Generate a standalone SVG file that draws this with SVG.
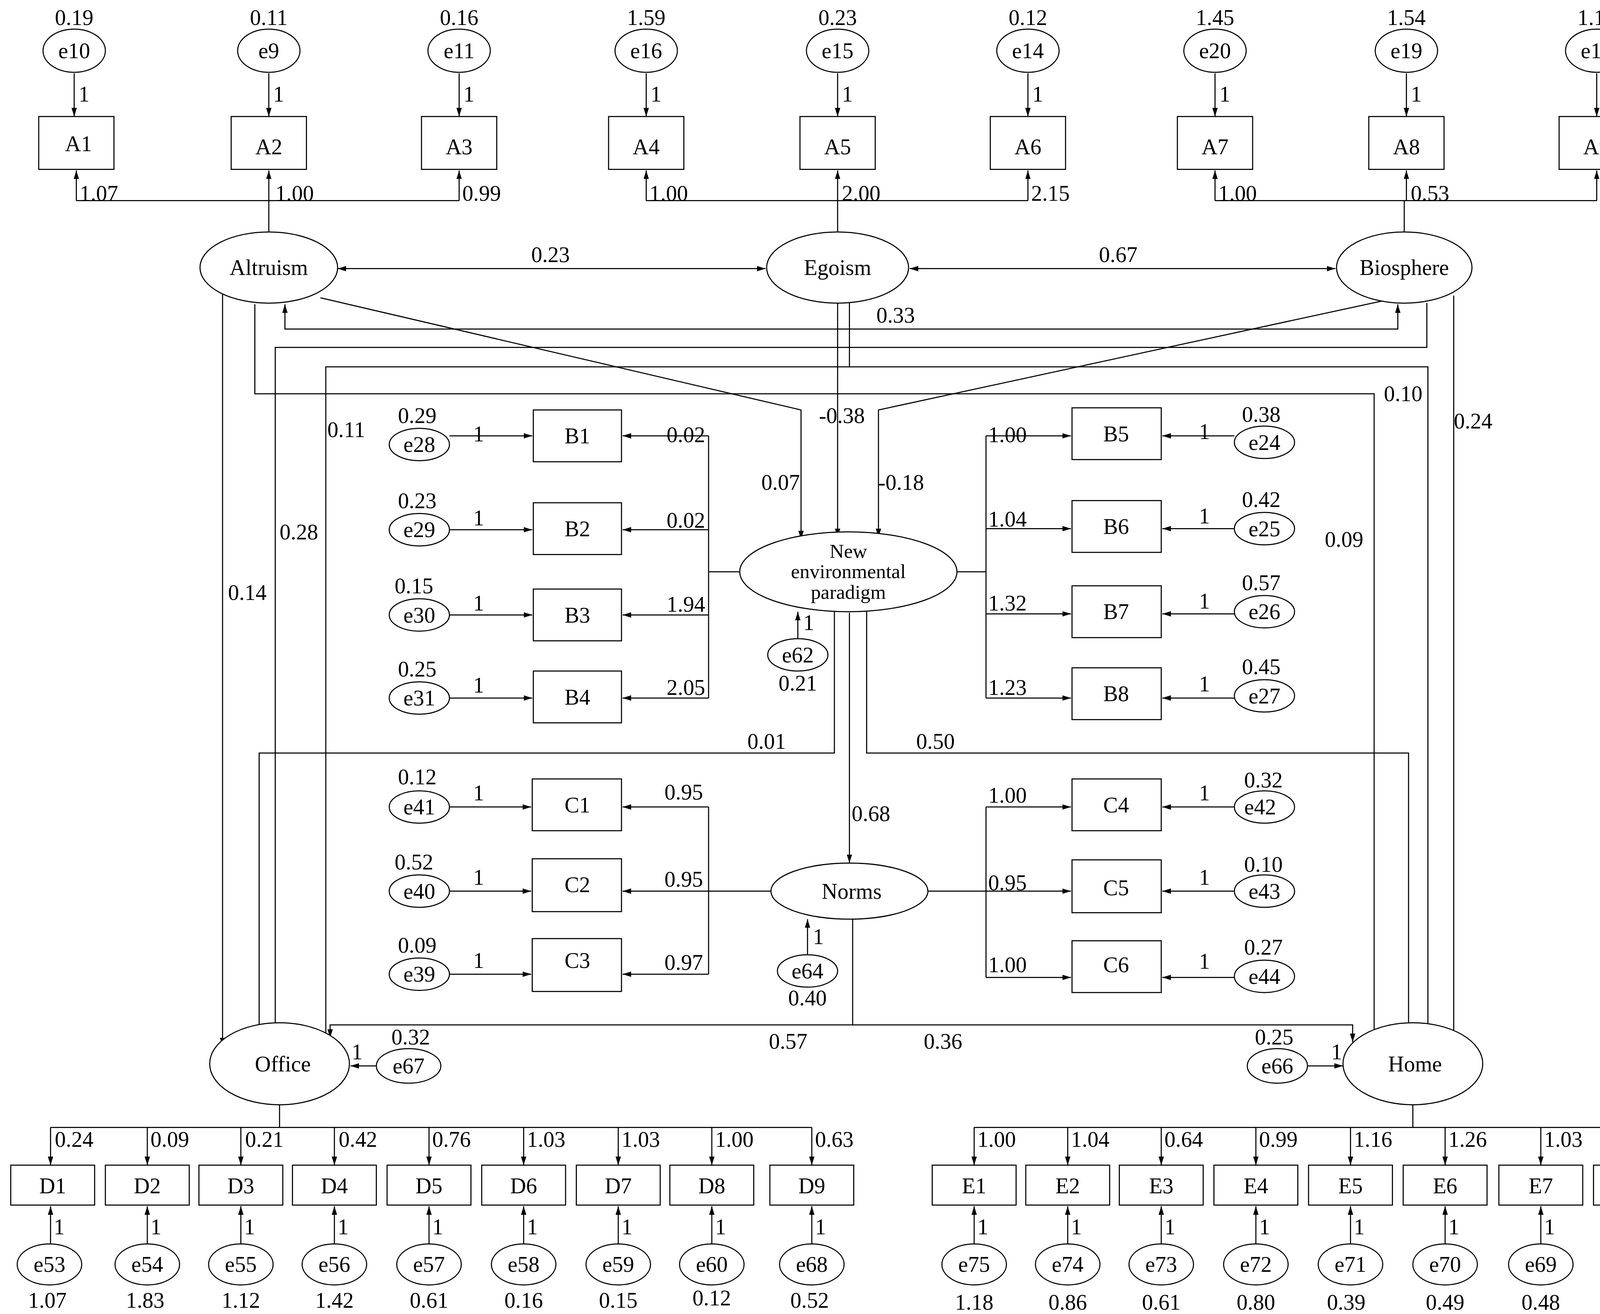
<svg xmlns="http://www.w3.org/2000/svg" width="4316" height="3364" viewBox="0 0 4316 3364">
<defs>
<style>
path{fill:none;stroke:#000;stroke-width:1}
.a{marker-end:url(#ah)}
.d{marker-end:url(#ah);marker-start:url(#ah)}
.n{fill:#fff;stroke:#000;stroke-width:1}
text{font-family:"Liberation Serif","Times New Roman",serif;font-size:20.5px;fill:#000}
.c{text-anchor:middle}
.sm{font-size:18.5px}
</style>
<marker id="ah" markerUnits="userSpaceOnUse" markerWidth="9" markerHeight="6" refX="8" refY="3" orient="auto-start-reverse"><path d="M0,0.5 L8,3 L0,5.5 z" style="fill:#000;stroke:none"/></marker>
</defs>
<rect width="4316" height="3364" fill="#fff"/>
<g transform="scale(2.7526,2.762)">
<g id="connectors">
<path class="a" d="M69,68 V108"/><path class="a" d="M250,68 V108"/><path class="a" d="M427,68 V108"/><path class="a" d="M601,68 V108"/><path class="a" d="M779,68 V108"/><path class="a" d="M956,68 V108"/><path class="a" d="M1130,68 V108"/><path class="a" d="M1308,68 V108"/><path class="a" d="M1485,68 V108"/>
<path d="M250,215 V186 H71 M250,186 H427 M779,215 V186 H601 M779,186 H956 M1306,215 V186 H1130 M1306,186 H1485"/>
<path class="a" d="M71,186 V158"/><path class="a" d="M250,186 V158"/><path class="a" d="M427,186 V158"/><path class="a" d="M601,186 V158"/><path class="a" d="M779,186 V158"/><path class="a" d="M956,186 V158"/><path class="a" d="M1130,186 V158"/><path class="a" d="M1308,186 V158"/><path class="a" d="M1485,186 V158"/>
<path class="d" d="M314,249 H712"/>
<path class="d" d="M846,249 H1242"/>
<path class="d" d="M265,282 V305 H1300 V282"/>
<path class="a" d="M207,273 V970"/>
<path class="a" d="M237,282 V365 H1278 V968"/>
<path class="a" d="M298,276 L745,380 V500"/>
<path class="a" d="M779,281 V498"/>
<path class="a" d="M790,281 V340 H303 V968"/>
<path class="a" d="M790,340 H1328 V967"/>
<path class="a" d="M1327,281 V322 H256 V968"/>
<path class="a" d="M1352,274 V966"/>
<path class="a" d="M1290,278 L817,380 V498"/>
<path d="M688,530 H659 M659,404 V647 M890,530 H917 M917,404 V647"/>
<path class="a" d="M659,404 H579"/><path class="a" d="M659,491 H579"/><path class="a" d="M659,570 H579"/><path class="a" d="M659,647 H579"/>
<path class="a" d="M917,404 H996"/><path class="a" d="M917,490 H996"/><path class="a" d="M917,569 H996"/><path class="a" d="M917,647 H996"/>
<path class="a" d="M418,404 H495"/><path class="a" d="M418,491 H495"/><path class="a" d="M418,570 H495"/><path class="a" d="M418,647 H495"/>
<path class="a" d="M1148,404 H1081"/><path class="a" d="M1148,490 H1081"/><path class="a" d="M1148,569 H1081"/><path class="a" d="M1148,647 H1081"/>
<path class="a" d="M742,592 V567"/>
<path class="a" d="M776,567 V698 H241 V968"/>
<path class="a" d="M806,567 V698 H1310 V968"/>
<path class="a" d="M790,568 V800"/>
<path d="M717,826 H659 M659,748 V903 M863,826 H917 M917,748 V906"/>
<path class="a" d="M659,748 H579"/><path class="a" d="M659,826 H579"/><path class="a" d="M659,903 H579"/>
<path class="a" d="M917,748 H996"/><path class="a" d="M917,826 H996"/><path class="a" d="M917,906 H996"/>
<path class="a" d="M418,748 H494"/><path class="a" d="M418,826 H494"/><path class="a" d="M418,903 H494"/>
<path class="a" d="M1148,748 H1081"/><path class="a" d="M1148,826 H1081"/><path class="a" d="M1148,906 H1081"/>
<path class="a" d="M751,885 V852"/>
<path class="a" d="M793,852 V950 H307 V962"/>
<path class="a" d="M793,950 H1258 V966"/>
<path class="a" d="M350,988 H326"/>
<path class="a" d="M1160,988 H1249"/>
<path d="M260,1024 V1045 M47,1045 H755 M1314,1024 V1045 M906,1045 H1521"/>
<path class="a" d="M47,1045 V1080"/><path class="a" d="M137,1045 V1080"/><path class="a" d="M224,1045 V1080"/><path class="a" d="M311,1045 V1080"/><path class="a" d="M399,1045 V1080"/><path class="a" d="M487,1045 V1080"/><path class="a" d="M575,1045 V1080"/><path class="a" d="M662,1045 V1080"/><path class="a" d="M755,1045 V1080"/>
<path class="a" d="M906,1045 V1080"/><path class="a" d="M993,1045 V1080"/><path class="a" d="M1080,1045 V1080"/><path class="a" d="M1168,1045 V1080"/><path class="a" d="M1256,1045 V1080"/><path class="a" d="M1344,1045 V1080"/><path class="a" d="M1433,1045 V1080"/><path class="a" d="M1521,1045 V1080"/>
<path class="a" d="M47,1153 V1118"/><path class="a" d="M137,1153 V1118"/><path class="a" d="M224,1153 V1118"/><path class="a" d="M311,1153 V1118"/><path class="a" d="M399,1153 V1118"/><path class="a" d="M487,1153 V1118"/><path class="a" d="M575,1153 V1118"/><path class="a" d="M662,1153 V1118"/><path class="a" d="M755,1153 V1118"/>
<path class="a" d="M906,1153 V1118"/><path class="a" d="M993,1153 V1118"/><path class="a" d="M1080,1153 V1118"/><path class="a" d="M1168,1153 V1118"/><path class="a" d="M1256,1153 V1118"/><path class="a" d="M1344,1153 V1118"/><path class="a" d="M1433,1153 V1118"/><path class="a" d="M1521,1153 V1118"/>
</g>
<g id="labels">
<text x="73" y="94">1</text><text x="254" y="94">1</text><text x="431" y="94">1</text><text x="605" y="94">1</text><text x="783" y="94">1</text><text x="960" y="94">1</text><text x="1134" y="94">1</text><text x="1312" y="94">1</text><text x="1489" y="94">1</text>
<text x="74" y="186">1.07</text><text x="256" y="186">1.00</text><text x="430" y="186">0.99</text>
<text x="604" y="186">1.00</text><text x="783" y="186">2.00</text><text x="959" y="186">2.15</text>
<text x="1133" y="186">1.00</text><text x="1312" y="186">0.53</text><text x="1488" y="186">1.22</text>
<text class="c" x="512" y="243">0.23</text><text class="c" x="1040" y="243">0.67</text><text class="c" x="833" y="299">0.33</text>
<text class="c" x="230" y="556">0.14</text><text class="c" x="1250" y="507">0.09</text><text class="c" x="726" y="454">0.07</text>
<text class="c" x="783" y="392">-0.38</text><text class="c" x="322" y="405">0.11</text><text class="c" x="1305" y="372">0.10</text>
<text class="c" x="278" y="500">0.28</text><text class="c" x="1370" y="397">0.24</text><text class="c" x="838" y="454">-0.18</text>
<text x="620" y="410">0.02</text><text x="620" y="489">0.02</text><text x="620" y="567">1.94</text><text x="620" y="644">2.05</text>
<text x="919" y="410">1.00</text><text x="919" y="488">1.04</text><text x="919" y="566">1.32</text><text x="919" y="644">1.23</text>
<text x="440" y="409">1</text><text x="440" y="487">1</text><text x="440" y="566">1</text><text x="440" y="642">1</text>
<text x="1115" y="407">1</text><text x="1115" y="485">1</text><text x="1115" y="564">1</text><text x="1115" y="641">1</text>
<text x="747" y="584">1</text>
<text class="c" x="713" y="694">0.01</text><text class="c" x="870" y="694">0.50</text><text class="c" x="810" y="761">0.68</text>
<text x="618" y="741">0.95</text><text x="618" y="822">0.95</text><text x="618" y="899">0.97</text>
<text x="919" y="744">1.00</text><text x="919" y="825">0.95</text><text x="919" y="901">1.00</text>
<text x="440" y="742">1</text><text x="440" y="820">1</text><text x="440" y="897">1</text>
<text x="1115" y="742">1</text><text x="1115" y="820">1</text><text x="1115" y="898">1</text>
<text x="756" y="875">1</text>
<text class="c" x="733" y="972">0.57</text><text class="c" x="877" y="972">0.36</text>
<text x="327" y="982">1</text><text x="1238" y="982">1</text>
<text x="51" y="1063">0.24</text><text x="140" y="1063">0.09</text><text x="228" y="1063">0.21</text><text x="315" y="1063">0.42</text><text x="402" y="1063">0.76</text><text x="490" y="1063">1.03</text><text x="578" y="1063">1.03</text><text x="665" y="1063">1.00</text><text x="758" y="1063">0.63</text>
<text x="909" y="1063">1.00</text><text x="996" y="1063">1.04</text><text x="1083" y="1063">0.64</text><text x="1171" y="1063">0.99</text><text x="1259" y="1063">1.16</text><text x="1347" y="1063">1.26</text><text x="1436" y="1063">1.03</text><text x="1524" y="1063">0.99</text>
<text x="50" y="1144">1</text><text x="140" y="1144">1</text><text x="227" y="1144">1</text><text x="314" y="1144">1</text><text x="402" y="1144">1</text><text x="490" y="1144">1</text><text x="578" y="1144">1</text><text x="665" y="1144">1</text><text x="758" y="1144">1</text>
<text x="909" y="1144">1</text><text x="996" y="1144">1</text><text x="1083" y="1144">1</text><text x="1171" y="1144">1</text><text x="1259" y="1144">1</text><text x="1347" y="1144">1</text><text x="1436" y="1144">1</text><text x="1524" y="1144">1</text>
</g>
<g id="e10"><ellipse class="n" cx="69" cy="47" rx="29" ry="20"/><text class="c" x="69" y="54">e10</text><text class="c" x="69" y="23">0.19</text></g>
<g id="e9"><ellipse class="n" cx="250" cy="47" rx="29" ry="20"/><text class="c" x="250" y="54">e9</text><text class="c" x="250" y="23">0.11</text></g>
<g id="e11"><ellipse class="n" cx="427" cy="47" rx="29" ry="20"/><text class="c" x="427" y="54">e11</text><text class="c" x="427" y="23">0.16</text></g>
<g id="e16"><ellipse class="n" cx="601" cy="47" rx="29" ry="20"/><text class="c" x="601" y="54">e16</text><text class="c" x="601" y="23">1.59</text></g>
<g id="e15"><ellipse class="n" cx="779" cy="47" rx="29" ry="20"/><text class="c" x="779" y="54">e15</text><text class="c" x="779" y="23">0.23</text></g>
<g id="e14"><ellipse class="n" cx="956" cy="47" rx="29" ry="20"/><text class="c" x="956" y="54">e14</text><text class="c" x="956" y="23">0.12</text></g>
<g id="e20"><ellipse class="n" cx="1130" cy="47" rx="29" ry="20"/><text class="c" x="1130" y="54">e20</text><text class="c" x="1130" y="23">1.45</text></g>
<g id="e19"><ellipse class="n" cx="1308" cy="47" rx="29" ry="20"/><text class="c" x="1308" y="54">e19</text><text class="c" x="1308" y="23">1.54</text></g>
<g id="e18"><ellipse class="n" cx="1485" cy="47" rx="29" ry="20"/><text class="c" x="1485" y="54">e18</text><text class="c" x="1485" y="23">1.15</text></g>
<g id="A1"><rect class="n" x="36" y="108" width="70" height="49"/><text class="c" x="73" y="140">A1</text></g>
<g id="A2"><rect class="n" x="215" y="108" width="70" height="49"/><text class="c" x="250" y="143">A2</text></g>
<g id="A3"><rect class="n" x="392" y="108" width="70" height="49"/><text class="c" x="427" y="143">A3</text></g>
<g id="A4"><rect class="n" x="566" y="108" width="70" height="49"/><text class="c" x="601" y="143">A4</text></g>
<g id="A5"><rect class="n" x="744" y="108" width="70" height="49"/><text class="c" x="779" y="143">A5</text></g>
<g id="A6"><rect class="n" x="921" y="108" width="70" height="49"/><text class="c" x="956" y="143">A6</text></g>
<g id="A7"><rect class="n" x="1095" y="108" width="70" height="49"/><text class="c" x="1130" y="143">A7</text></g>
<g id="A8"><rect class="n" x="1273" y="108" width="70" height="49"/><text class="c" x="1308" y="143">A8</text></g>
<g id="A9"><rect class="n" x="1450" y="108" width="70" height="49"/><text class="c" x="1485" y="143">A9</text></g>
<g id="Altruism"><ellipse class="n" cx="250" cy="248" rx="64" ry="33"/><text class="c" x="250" y="255">Altruism</text></g>
<g id="Egoism"><ellipse class="n" cx="779" cy="248" rx="66" ry="33"/><text class="c" x="779" y="255">Egoism</text></g>
<g id="Biosphere"><ellipse class="n" cx="1306" cy="248" rx="63" ry="33"/><text class="c" x="1306" y="255">Biosphere</text></g>
<g id="NEP"><ellipse class="n" cx="789" cy="530" rx="101" ry="37"/><text class="c sm" x="789" y="517">New</text><text class="c sm" x="789" y="536">environmental</text><text class="c sm" x="789" y="555">paradigm</text></g>
<g id="e62"><ellipse class="n" cx="742" cy="607" rx="28" ry="15"/><text class="c" x="742" y="614">e62</text><text class="c" x="742" y="640">0.21</text></g>
<g id="B1"><rect class="n" x="496" y="380" width="82" height="48"/><text class="c" x="537" y="411">B1</text></g>
<g id="B2"><rect class="n" x="496" y="466" width="82" height="48"/><text class="c" x="537" y="497">B2</text></g>
<g id="B3"><rect class="n" x="496" y="546" width="82" height="48"/><text class="c" x="537" y="577">B3</text></g>
<g id="B4"><rect class="n" x="496" y="622" width="82" height="48"/><text class="c" x="537" y="653">B4</text></g>
<g id="B5"><rect class="n" x="997" y="378" width="83" height="48"/><text class="c" x="1038" y="409">B5</text></g>
<g id="B6"><rect class="n" x="997" y="464" width="83" height="48"/><text class="c" x="1038" y="495">B6</text></g>
<g id="B7"><rect class="n" x="997" y="543" width="83" height="48"/><text class="c" x="1038" y="574">B7</text></g>
<g id="B8"><rect class="n" x="997" y="619" width="83" height="48"/><text class="c" x="1038" y="650">B8</text></g>
<g id="e28"><ellipse class="n" cx="390" cy="412" rx="28" ry="15"/><text class="c" x="390" y="419">e28</text><text class="c" x="388" y="392">0.29</text></g>
<g id="e29"><ellipse class="n" cx="390" cy="491" rx="28" ry="15"/><text class="c" x="390" y="498">e29</text><text class="c" x="388" y="471">0.23</text></g>
<g id="e30"><ellipse class="n" cx="390" cy="570" rx="28" ry="15"/><text class="c" x="390" y="577">e30</text><text class="c" x="385" y="550">0.15</text></g>
<g id="e31"><ellipse class="n" cx="390" cy="647" rx="28" ry="15"/><text class="c" x="390" y="654">e31</text><text class="c" x="388" y="627">0.25</text></g>
<g id="e24"><ellipse class="n" cx="1176" cy="410" rx="28" ry="15"/><text class="c" x="1176" y="417">e24</text><text class="c" x="1173" y="391">0.38</text></g>
<g id="e25"><ellipse class="n" cx="1176" cy="490" rx="28" ry="15"/><text class="c" x="1176" y="497">e25</text><text class="c" x="1173" y="470">0.42</text></g>
<g id="e26"><ellipse class="n" cx="1176" cy="567" rx="28" ry="15"/><text class="c" x="1176" y="574">e26</text><text class="c" x="1173" y="547">0.57</text></g>
<g id="e27"><ellipse class="n" cx="1176" cy="645" rx="28" ry="15"/><text class="c" x="1176" y="652">e27</text><text class="c" x="1173" y="625">0.45</text></g>
<g id="Norms"><ellipse class="n" cx="790" cy="826" rx="73" ry="26"/><text class="c" x="792" y="833">Norms</text></g>
<g id="e64"><ellipse class="n" cx="751" cy="900" rx="28" ry="15"/><text class="c" x="751" y="907">e64</text><text class="c" x="751" y="932">0.40</text></g>
<g id="C1"><rect class="n" x="495" y="722" width="83" height="48"/><text class="c" x="537" y="753">C1</text></g>
<g id="C2"><rect class="n" x="495" y="796" width="83" height="49"/><text class="c" x="537" y="827">C2</text></g>
<g id="C3"><rect class="n" x="495" y="870" width="83" height="49"/><text class="c" x="537" y="897">C3</text></g>
<g id="C4"><rect class="n" x="997" y="722" width="83" height="48"/><text class="c" x="1038" y="753">C4</text></g>
<g id="C5"><rect class="n" x="997" y="797" width="83" height="49"/><text class="c" x="1038" y="830">C5</text></g>
<g id="C6"><rect class="n" x="997" y="872" width="83" height="48"/><text class="c" x="1038" y="901">C6</text></g>
<g id="e41"><ellipse class="n" cx="390" cy="748" rx="28" ry="15"/><text class="c" x="390" y="755">e41</text><text class="c" x="388" y="727">0.12</text></g>
<g id="e40"><ellipse class="n" cx="390" cy="826" rx="28" ry="15"/><text class="c" x="390" y="833">e40</text><text class="c" x="385" y="806">0.52</text></g>
<g id="e39"><ellipse class="n" cx="390" cy="903" rx="28" ry="15"/><text class="c" x="390" y="910">e39</text><text class="c" x="388" y="883">0.09</text></g>
<g id="e42"><ellipse class="n" cx="1176" cy="748" rx="28" ry="15"/><text class="c" x="1172" y="755">e42</text><text class="c" x="1175" y="730">0.32</text></g>
<g id="e43"><ellipse class="n" cx="1176" cy="826" rx="28" ry="15"/><text class="c" x="1176" y="833">e43</text><text class="c" x="1175" y="808">0.10</text></g>
<g id="e44"><ellipse class="n" cx="1176" cy="905" rx="28" ry="15"/><text class="c" x="1176" y="912">e44</text><text class="c" x="1175" y="885">0.27</text></g>
<g id="Office"><ellipse class="n" cx="260" cy="986" rx="65" ry="38"/><text class="c" x="263" y="993">Office</text></g>
<g id="Home"><ellipse class="n" cx="1314" cy="986" rx="65" ry="38"/><text class="c" x="1316" y="993">Home</text></g>
<g id="e67"><ellipse class="n" cx="380" cy="988" rx="30" ry="16"/><text class="c" x="380" y="995">e67</text><text class="c" x="382" y="968">0.32</text></g>
<g id="e66"><ellipse class="n" cx="1188" cy="988" rx="28" ry="16"/><text class="c" x="1188" y="995">e66</text><text class="c" x="1185" y="968">0.25</text></g>
<g id="D1"><rect class="n" x="10" y="1080" width="78" height="37"/><text class="c" x="49" y="1106">D1</text></g>
<g id="D2"><rect class="n" x="98" y="1080" width="78" height="37"/><text class="c" x="137" y="1106">D2</text></g>
<g id="D3"><rect class="n" x="185" y="1080" width="78" height="37"/><text class="c" x="224" y="1106">D3</text></g>
<g id="D4"><rect class="n" x="272" y="1080" width="78" height="37"/><text class="c" x="311" y="1106">D4</text></g>
<g id="D5"><rect class="n" x="360" y="1080" width="78" height="37"/><text class="c" x="399" y="1106">D5</text></g>
<g id="D6"><rect class="n" x="448" y="1080" width="78" height="37"/><text class="c" x="487" y="1106">D6</text></g>
<g id="D7"><rect class="n" x="536" y="1080" width="78" height="37"/><text class="c" x="575" y="1106">D7</text></g>
<g id="D8"><rect class="n" x="623" y="1080" width="78" height="37"/><text class="c" x="662" y="1106">D8</text></g>
<g id="D9"><rect class="n" x="716" y="1080" width="78" height="37"/><text class="c" x="755" y="1106">D9</text></g>
<g id="E1"><rect class="n" x="867" y="1080" width="78" height="37"/><text class="c" x="906" y="1106">E1</text></g>
<g id="E2"><rect class="n" x="954" y="1080" width="78" height="37"/><text class="c" x="993" y="1106">E2</text></g>
<g id="E3"><rect class="n" x="1041" y="1080" width="78" height="37"/><text class="c" x="1080" y="1106">E3</text></g>
<g id="E4"><rect class="n" x="1129" y="1080" width="78" height="37"/><text class="c" x="1168" y="1106">E4</text></g>
<g id="E5"><rect class="n" x="1217" y="1080" width="78" height="37"/><text class="c" x="1256" y="1106">E5</text></g>
<g id="E6"><rect class="n" x="1305" y="1080" width="78" height="37"/><text class="c" x="1344" y="1106">E6</text></g>
<g id="E7"><rect class="n" x="1394" y="1080" width="78" height="37"/><text class="c" x="1433" y="1106">E7</text></g>
<g id="E8"><rect class="n" x="1482" y="1080" width="78" height="37"/><text class="c" x="1521" y="1106">E8</text></g>
<g id="e53"><ellipse class="n" cx="46" cy="1172" rx="30" ry="19"/><text class="c" x="46" y="1179">e53</text><text class="c" x="44" y="1212">1.07</text></g>
<g id="e54"><ellipse class="n" cx="137" cy="1172" rx="30" ry="19"/><text class="c" x="137" y="1179">e54</text><text class="c" x="135" y="1212">1.83</text></g>
<g id="e55"><ellipse class="n" cx="224" cy="1172" rx="30" ry="19"/><text class="c" x="224" y="1179">e55</text><text class="c" x="224" y="1212">1.12</text></g>
<g id="e56"><ellipse class="n" cx="311" cy="1172" rx="30" ry="19"/><text class="c" x="311" y="1179">e56</text><text class="c" x="311" y="1212">1.42</text></g>
<g id="e57"><ellipse class="n" cx="399" cy="1172" rx="30" ry="19"/><text class="c" x="399" y="1179">e57</text><text class="c" x="399" y="1212">0.61</text></g>
<g id="e58"><ellipse class="n" cx="487" cy="1172" rx="30" ry="19"/><text class="c" x="487" y="1179">e58</text><text class="c" x="487" y="1212">0.16</text></g>
<g id="e59"><ellipse class="n" cx="575" cy="1172" rx="30" ry="19"/><text class="c" x="575" y="1179">e59</text><text class="c" x="575" y="1212">0.15</text></g>
<g id="e60"><ellipse class="n" cx="662" cy="1172" rx="30" ry="19"/><text class="c" x="662" y="1179">e60</text><text class="c" x="662" y="1210">0.12</text></g>
<g id="e68"><ellipse class="n" cx="755" cy="1172" rx="30" ry="19"/><text class="c" x="755" y="1179">e68</text><text class="c" x="753" y="1212">0.52</text></g>
<g id="e75"><ellipse class="n" cx="906" cy="1172" rx="30" ry="19"/><text class="c" x="906" y="1179">e75</text><text class="c" x="906" y="1214">1.18</text></g>
<g id="e74"><ellipse class="n" cx="993" cy="1172" rx="30" ry="19"/><text class="c" x="993" y="1179">e74</text><text class="c" x="993" y="1214">0.86</text></g>
<g id="e73"><ellipse class="n" cx="1080" cy="1172" rx="30" ry="19"/><text class="c" x="1080" y="1179">e73</text><text class="c" x="1080" y="1214">0.61</text></g>
<g id="e72"><ellipse class="n" cx="1168" cy="1172" rx="30" ry="19"/><text class="c" x="1168" y="1179">e72</text><text class="c" x="1168" y="1214">0.80</text></g>
<g id="e71"><ellipse class="n" cx="1256" cy="1172" rx="30" ry="19"/><text class="c" x="1256" y="1179">e71</text><text class="c" x="1252" y="1214">0.39</text></g>
<g id="e70"><ellipse class="n" cx="1344" cy="1172" rx="30" ry="19"/><text class="c" x="1344" y="1179">e70</text><text class="c" x="1344" y="1214">0.49</text></g>
<g id="e69"><ellipse class="n" cx="1433" cy="1172" rx="30" ry="19"/><text class="c" x="1433" y="1179">e69</text><text class="c" x="1433" y="1214">0.48</text></g>
<g id="e63"><ellipse class="n" cx="1521" cy="1172" rx="30" ry="19"/><text class="c" x="1521" y="1179">e63</text><text class="c" x="1518" y="1214">0.54</text></g>
</g>
</svg>
